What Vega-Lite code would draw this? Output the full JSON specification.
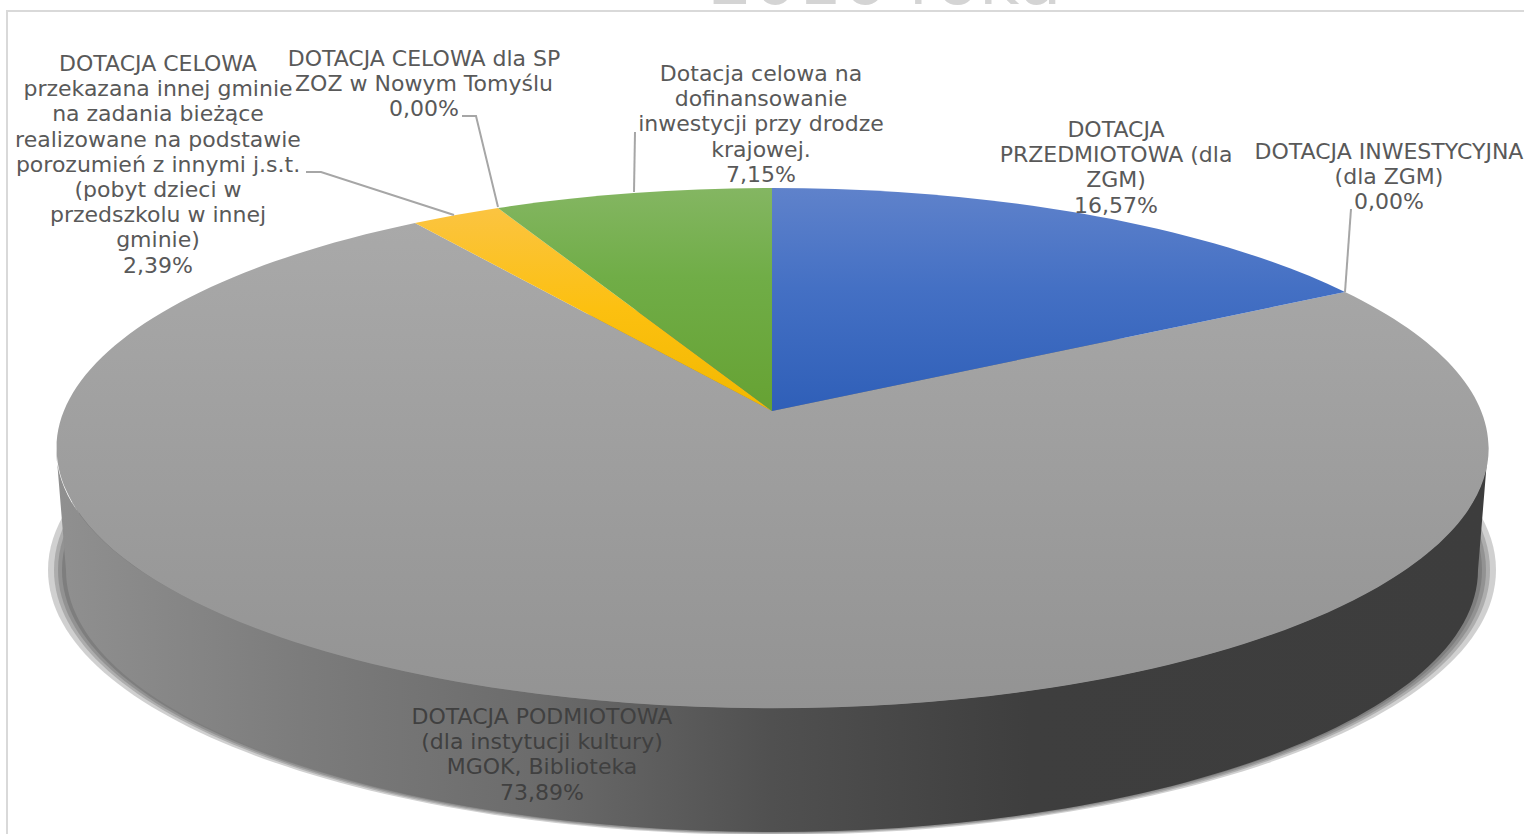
{
"$schema":"https://vega.github.io/schema/vega-lite/v6.json",
"width":1524,"height":834,"padding":0,"autosize":{"type":"none"},
"background":"white",
"view":{"stroke":null},
"datasets":{
"slices":[
{"order":1,"name":"DOTACJA PRZEDMIOTOWA (dla ZGM)","value":16.57,"label":"DOTACJA\nPRZEDMIOTOWA (dla\nZGM)\n16,57%"},
{"order":2,"name":"DOTACJA INWESTYCYJNA (dla ZGM)","value":0,"label":"DOTACJA INWESTYCYJNA\n(dla ZGM)\n0,00%"},
{"order":3,"name":"DOTACJA PODMIOTOWA","value":73.89,"label":"DOTACJA PODMIOTOWA\n(dla instytucji kultury)\nMGOK, Biblioteka\n73,89%"},
{"order":4,"name":"DOTACJA CELOWA inna gmina","value":2.39,"label":"DOTACJA CELOWA\nprzekazana innej gminie\nna zadania bieżące\nrealizowane na podstawie\nporozumień z innymi j.s.t.\n(pobyt dzieci w\nprzedszkolu w innej\ngminie)\n2,39%"},
{"order":5,"name":"DOTACJA CELOWA dla SP ZOZ","value":0,"label":"DOTACJA CELOWA dla SP\nZOZ w Nowym Tomyślu\n0,00%"},
{"order":6,"name":"Dotacja celowa droga krajowa","value":7.15,"label":"Dotacja celowa na\ndofinansowanie\ninwestycji przy drodze\nkrajowej.\n7,15%"}
],
"heading":[{"order":7,"label":"2016 roku"}],
"frame":[{"part":"frame"}],
"shadow":[{"part":"s1"},{"part":"s2"},{"part":"s3"},{"part":"s4"}],
"wall":[{"part":"wall"}]
},
"data":{"name":"slices"},
"layer":[
{"data":{"name":"frame"},"mark":{"type":"point","filled":false,"opacity":1,"size":4,"stroke":"#d9d9d9","strokeWidth":2,"shape":"M-755,417L-755,-406L762,-406"},"encoding":{}},
{"data":{"name":"shadow"},"mark":{"type":"point","filled":true,"opacity":0.25,"size":4,"fill":"#444444"},
 "encoding":{"shape":{"field":"part","type":"nominal","legend":null,"scale":{"domain":["s1","s2","s3","s4"],"range":[
 "M-714,153A724,265 0 1 1 734,153A724,265 0 1 1 -714,153Z",
 "M-708,153A718,264 0 1 1 728,153A718,264 0 1 1 -708,153Z",
 "M-704,153A714,263 0 1 1 724,153A714,263 0 1 1 -704,153Z",
 "M-700,153A710,262 0 1 1 720,153A710,262 0 1 1 -700,153Z"]}}}},
{"data":{"name":"wall"},"mark":{"type":"point","filled":true,"opacity":1,"size":4,"shape":"M-706,31A716,260 0 0 0 726,31L716,153A706,262 0 0 1 -696,153Z",
 "fill":{"gradient":"linear","x1":0,"y1":0,"x2":1,"y2":0,"stops":[{"offset":0,"color":"#909090"},{"offset":0.17,"color":"#7c7c7c"},{"offset":0.33,"color":"#6c6c6c"},{"offset":0.5,"color":"#505050"},{"offset":0.68,"color":"#3e3e3e"},{"offset":1,"color":"#3d3d3d"}]}},"encoding":{}},
{"transform":[{"filter":"datum.order==3"}],"mark":{"type":"point","filled":true,"opacity":1,"size":4,"shape":"M10,-6L583,-125A716,260 0 1 1 -347,-194Z",
 "fill":{"gradient":"linear","x1":0,"y1":0,"x2":0,"y2":1,"stops":[{"offset":0,"color":"#a9a9a9"},{"offset":1,"color":"#939393"}]}},"encoding":{}},
{"transform":[{"filter":"datum.order==1"}],"mark":{"type":"point","filled":true,"opacity":1,"size":4,"shape":"M10,-6L10,-229A716,260 0 0 1 583,-125Z",
 "fill":{"gradient":"linear","x1":0,"y1":0,"x2":0,"y2":1,"stops":[{"offset":0,"color":"#5f82cb"},{"offset":0.45,"color":"#4470c4"},{"offset":1,"color":"#2f5fb8"}]}},"encoding":{}},
{"transform":[{"filter":"datum.order==4"}],"mark":{"type":"point","filled":true,"opacity":1,"size":4,"shape":"M10,-6L-347,-194A716,260 0 0 1 -264,-209Z",
 "fill":{"gradient":"linear","x1":0,"y1":0,"x2":0,"y2":1,"stops":[{"offset":0,"color":"#fbc441"},{"offset":0.5,"color":"#fcc010"},{"offset":1,"color":"#f2b800"}]}},"encoding":{}},
{"transform":[{"filter":"datum.order==6"}],"mark":{"type":"point","filled":true,"opacity":1,"size":4,"shape":"M10,-6L-264,-209A716,260 0 0 1 10,-229Z",
 "fill":{"gradient":"linear","x1":0,"y1":0,"x2":0,"y2":1,"stops":[{"offset":0,"color":"#84b662"},{"offset":0.4,"color":"#70ad47"},{"offset":1,"color":"#66a233"}]}},"encoding":{}},
{"transform":[{"filter":"datum.order!=3 && datum.order!=1"}],"mark":{"type":"point","filled":false,"opacity":1,"size":4,"stroke":"#a6a6a6","strokeWidth":2},
 "encoding":{"shape":{"field":"order","type":"nominal","legend":null,"scale":{"domain":[2,4,5,6],"range":["M589,-208L583,-125","M-456,-245L-441,-245L-308,-202","M-300,-301L-286,-301L-264,-210","M-127,-285L-128,-225"]}}}},
{"mark":{"type":"text","font":"DejaVu Sans","fontSize":22,"lineBreak":"\n","lineHeight":25.2,"align":"center","baseline":"middle"},
 "encoding":{
 "x":{"field":"order","type":"quantitative","axis":null,"scale":{"domain":[1,2,3,4,5,6,7],"range":[1116,1389,542,158,424,761,885]}},
 "y":{"field":"order","type":"quantitative","axis":null,"scale":{"domain":[1,2,3,4,5,6,7],"range":[130,152,717,64,59,74,4]}},
 "text":{"field":"label"},
 "color":{"condition":{"test":"datum.order==3","value":"#404040"},"value":"#595959"}}},
{"data":{"name":"heading"},"mark":{"type":"text","font":"DejaVu Sans","fontSize":70,"align":"center","baseline":"alphabetic","color":"#d4d4d4"},
 "encoding":{
 "x":{"field":"order","type":"quantitative"},
 "y":{"field":"order","type":"quantitative"},
 "text":{"field":"label"}}}
],
"resolve":{"scale":{"shape":"independent"}}
}
